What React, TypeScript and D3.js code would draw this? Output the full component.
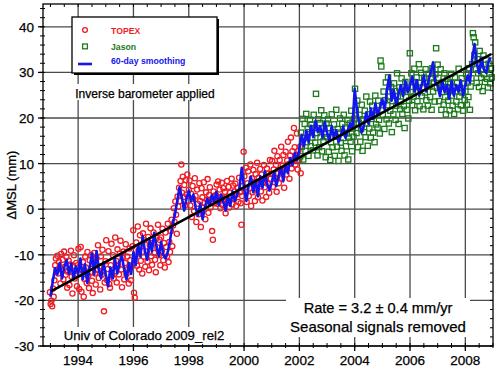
import React from "react";
import * as d3 from "d3";

// TOPEX cycles (mm), one every ~9.9 days from 1992.98
const topex = [
  -18.2, -20.8, -20.1, -21.3, -17.4, -19.2, -15.6, -12.3, -10.8, -13.4, -10.2, -14.1, -11.5, -12.7, -16.3, -9.8, -13.2, -11.1, -15.4, -9.3, -12.6, -14.4, -10.5, -17.2, -13.7, -11.3, -16.6, -12.1, -9.1, -14.8, -18.5, -12.4, -10.1, -15.2, -13.5, -11.8, -16.9,
  -12.3, -8.7, -17.5, -14.2, -8.3, -18.1, -13.4, -11.6, -19.2, -15.3, -10.4, -12.8, -16.2, -9.4, -14.6, -17.3, -11.2, -13.9, -10.1, -15.7, -18.4, -12.2, -9.6, -14.1, -16.5, -10.8, -13.3, -7.9, -15.1, -12.5, -17.6, -10.3, -14.4, -8.9, -13.6, -22.4, -16.1,
  -11.4, -6.8, -15.5, -13.1, -9.2, -16.4, -17.2, -12.3, -7.6, -14.5, -10.1, -15.2, -13.6, -6.2, -11.3, -16.1, -8.8, -12.4, -14.3, -9.7, -6.9, -13.2, -17.1, -10.6, -9.3, -15.4, -11.8, -7.7, -14.2, -10.4, -13.1, -16.3, -8.6, -11.2, -15.6, -12.5, -8.1,
  -4.6, -18.3, -19.4, -10.2, -7.3, -12.4, -3.8, -9.1, -13.2, -5.7, -11.3, -8.2, -14.1, -5.3, -10.4, -6.8, -12.6, -3.2, -9.3, -11.5, -6.1, -13.4, -7.8, -4.2, -10.3, -12.2, -7.4, -5.1, -9.6, -11.1, -13.8, -6.3, -8.4, -3.4, -10.1, -6.7, -12.3,
  -6.2, -9.1, -4.3, -11.2, -7.4, -12.8, -5.1, -8.3, -10.4, -3.2, -11.6, -7.2, -9.4, -4.8, -2.3, -8.1, -3.6, 0.2, -2.8, 1.7, -1.2, -5.4, 2.8, 0.6, 4.7, 1.8, 6.2, 9.8, 3.6, 7.1, 2.7, 5.3, 0.8, 6.4, 3.2, 7.6, 1.9,
  4.2, 6.3, 0.8, 3.4, -1.7, 5.1, 2.3, -0.4, 6.8, 2.9, -2.8, 4.3, 1.2, -1.1, 5.7, 1.8, -3.9, 4.6, 2.6, 0.3, 5.9, 1.4, -2.2, 3.7, 2.1, 6.6, -0.8, 3.1, 4.8, 0.4, 2.2, -4.8, -6.7, 3.9, 1.3, 2.8,
  3.1, 5.4, 1.2, 6.1, 1.8, 4.3, 0.2, 2.7, 5.8, 0.9, 4.6, 2.3, 3.8, -0.9, 2.6, 6.2, 1.7, 4.9, 0.4, 3.6, 2.8, 6.7, 1.1, 5.2, 2.4, 3.9, 5.6, 0.7, 3.3, 4.7, 1.6, 6.9, 3.7, 1.3, -3.4, 2.9, 5.1,
  12.6, 7.2, 3.8, 9.1, 1.6, 5.7, 8.3, 2.9, 4.6, 9.8, 0.7, 6.8, 3.7, 8.6, 5.9, 1.8, 7.7, 4.6, 10.2, 2.6, 6.9, 5.5, 8.8, 3.9, 7.6, 1.9, 5.8, 9.7, 4.8, 6.6, 2.7, 8.9, 5.6, 7.8, 3.6, 10.8, 6.7,
  7.8, 10.6, 4.9, 8.7, 12.8, 6.6, 9.7, 3.8, 11.6, 7.9, 5.7, 10.8, 8.6, 13.7, 6.8, 9.6, 11.9, 4.7, 8.8, 12.6, 7.6, 10.7, 14.8, 9.9, 6.7, 11.8, 15.7, 8.9, 12.7, 10.6, 17.8, 13.6, 9.8, 11.7, 16.6, 8.7, 12.9,
  10.8, 13.7, 7.9,
];

// Jason cycles (mm) from 2002.03
const jason = [
  11.6, 16.8, 13.7, 19.8, 10.9, 15.6, 18.7, 12.8, 20.9, 14.7, 17.6, 11.7, 16.9, 19.6, 13.8, 18.6, 15.7, 12.9, 20.7, 17.8, 14.6, 25.3, 16.7, 11.8, 19.7, 13.6, 18.9, 15.8, 21.7, 12.7, 17.7, 14.9, 20.6, 16.6, 11.4, 18.8,
  15.8, 19.7, 12.6, 17.8, 10.8, 14.7, 20.8, 13.6, 16.9, 18.6, 11.7, 15.9, 21.8, 13.7, 17.6, 10.6, 16.8, 19.9, 14.6, 12.8, 18.7, 15.6, 20.7, 11.8, 17.9, 13.8, 16.6, 19.6, 10.9, 15.7, 18.8, 14.8, 21.6, 12.7, 17.7, 15.9, 19.8,
  26.4, 21.8, 16.7, 23.8, 13.6, 18.9, 20.7, 14.8, 17.6, 22.9, 12.8, 19.7, 16.9, 21.6, 15.8, 24.7, 18.8, 13.9, 20.8, 17.7, 23.6, 15.7, 19.8, 22.7, 16.8, 20.6, 14.7, 24.9, 18.6, 21.7, 17.9, 23.8, 19.6, 16.6, 32.6, 31.3, 22.8,
  20.7, 25.8, 17.6, 23.9, 27.8, 19.7, 22.8, 28.9, 18.8, 24.7, 21.6, 26.8, 16.9, 23.7, 20.8, 27.6, 25.9, 19.6, 22.7, 29.8, 24.8, 18.7, 26.7, 21.9, 23.6, 28.7, 20.9, 25.7, 22.6, 17.8, 27.9, 24.6, 21.8, 26.6, 19.9, 23.8, 34.2,
  25.7, 29.8, 22.8, 27.9, 24.7, 30.8, 21.7, 26.8, 28.9, 23.7, 25.9, 31.8, 22.6, 27.7, 29.9, 24.8, 26.7, 21.9, 28.8, 25.6, 30.7, 23.9, 27.6, 22.7, 29.7, 26.9, 24.6, 28.7, 21.8, 30.9, 25.8, 27.8, 23.6, 29.6, 35.3, 26.6, 31.7,
  28.8, 23.7, 26.9, 30.7, 21.8, 25.7, 27.9, 22.9, 29.8, 24.6, 20.8, 26.7, 28.6, 23.8, 25.9, 21.7, 27.8, 29.7, 24.9, 22.7, 26.8, 20.9, 28.9, 25.8, 23.6, 27.7, 21.9, 30.8, 24.7, 26.6, 22.8, 28.7, 25.6, 21.6, 27.6, 23.9,
  25.8, 29.7, 22.9, 27.8, 24.6, 30.9, 21.8, 26.9, 28.7, 31.8, 38.6, 37.7, 33.8, 36.6, 30.8, 27.7, 32.9, 29.8, 26.8, 34.7, 31.6, 28.8, 30.7, 25.9, 33.7, 29.6, 27.9, 32.8, 30.6, 28.6, 26.7, 31.9, 29.7, 27.6, 30.9, 28.9,
];

// 60-day smoothing, monthly samples from 1993.0
const smooth = [
  -19.2, -15.8, -12.9, -14.3, -11.8, -15.2, -12.7, -11.2, -14.1, -11.9, -15.3, -12.6,
  -14.2, -10.8, -15.4, -12.1, -16.2, -12.8, -9.7, -14.3, -9.2, -13.4, -15.1, -11.7,
  -14.3, -16.9, -12.8, -15.2, -10.9, -14.1, -11.6, -10.2, -13.3, -15.4, -11.8, -14.2,
  -9.4, -12.3, -7.8, -10.4, -5.9, -9.2, -11.1, -6.8, -9.3, -5.2, -8.1, -10.3,
  -7.2, -10.1, -10.8, -9.2, -6.4, -3.3, -1.2, 1.8, 4.8, 2.6, -0.3, 2.3,
  4.1, 1.7, 3.2, 0.3, -1.4, 1.2, -2.2, 0.4, 2.3, 0.8, 3.1, 1.7,
  3.8, 0.9, 3.2, 1.6, -0.3, 2.8, 0.7, 3.9, 1.8, 3.2, 4.7, 9.1,
  4.6, 1.8, 5.2, 7.1, 3.7, 6.3, 2.8, 7.2, 4.7, 8.3, 5.6, 4.1,
  5.8, 8.2, 5.1, 7.3, 9.2, 6.1, 9.8, 7.9, 11.2, 9.7, 12.3, 10.8,
  13.2, 16.3, 13.8, 17.2, 14.7, 18.3, 15.8, 19.4, 16.9, 18.2, 15.7, 19.1,
  16.8, 14.9, 18.2, 15.8, 17.3, 14.7, 16.2, 18.1, 15.7, 17.2, 18.8, 17.6,
  26.4, 21.7, 18.8, 16.8, 18.3, 21.2, 18.7, 22.1, 19.8, 23.2, 20.7, 22.3,
  24.1, 21.8, 26.2, 29.3, 23.8, 26.1, 22.9, 25.3, 27.2, 24.8, 28.1, 25.7,
  27.2, 29.1, 25.8, 28.3, 24.9, 27.2, 29.3, 25.8, 28.1, 30.2, 32.2, 27.8,
  27.1, 24.8, 28.2, 25.7, 27.3, 24.2, 28.1, 24.9, 27.2, 25.8, 28.3, 24.9,
  27.2, 29.3, 27.8, 33.1, 36.2, 31.8, 29.8, 33.2, 30.7, 29.9, 32.1, 33.3,
];

const trendYears = [1993.05, 2008.9];
const trendValues = [-17.9, 33.9];

const xTicks = [1994, 1996, 1998, 2000, 2002, 2004, 2006, 2008];
const yTicks = [-30, -20, -10, 0, 10, 20, 30, 40];

const topexStart = 1992.98;
const jasonStart = 2002.03;
const cycle = 9.9156 / 365.25;
const smoothStart = 1993.0;

const font = "'Liberation Sans', Arial, Helvetica, sans-serif";

const App = () => {
  const x = d3.scaleLinear().domain([1992.73, 2009]).range([43, 493]);
  const y = d3.scaleLinear().domain([-30, 45]).range([346, 4]);
  const [x0, x1] = x.range();
  const [y0, y1] = y.range();

  const minorX = d3.range(1993, 2009.01, 0.5);
  const minorY = d3.range(-30, 45.01, 2);

  const line = d3
    .line<number>()
    .x((_, i) => x(smoothStart + i / 12))
    .y((d) => y(d));

  const grid = "#4a4a4a";
  // slightly heavier text, like the original rendering
  const ink = { stroke: "#000", strokeWidth: 0.25 };

  return (
    <svg width={500} height={368} style={{ position: "absolute", left: 0, top: 0, background: "#fff" }} fontFamily={font}>
      <rect x={0} y={0} width={500} height={368} fill="#fff" />
      {/* grid */}
      {xTicks.map((t) => (
        <line key={"gx" + t} x1={x(t)} x2={x(t)} y1={y1} y2={y0} stroke={grid} strokeWidth={1.3} />
      ))}
      {yTicks.map((t) => (
        <line key={"gy" + t} x1={x0} x2={x1} y1={y(t)} y2={y(t)} stroke={grid} strokeWidth={1.3} />
      ))}
      {/* minor ticks */}
      {minorX.map((t) => (
        <g key={"mx" + t}>
          <line x1={x(t)} x2={x(t)} y1={y1} y2={y1 + 3} stroke="#000" strokeWidth={1} />
          <line x1={x(t)} x2={x(t)} y1={y0 - 3} y2={y0 + 2} stroke="#000" strokeWidth={1} />
        </g>
      ))}
      {minorY.map((t) => (
        <g key={"my" + t}>
          <line x1={x0 - 3} x2={x0 + 2} y1={y(t)} y2={y(t)} stroke="#000" strokeWidth={1} />
          <line x1={x1 - 3} x2={x1} y1={y(t)} y2={y(t)} stroke="#000" strokeWidth={1} />
        </g>
      ))}
      {xTicks.map((t) => (
        <line key={"tx" + t} x1={x(t)} x2={x(t)} y1={y0} y2={y0 + 5} stroke="#000" strokeWidth={1.3} />
      ))}
      {yTicks.map((t) => (
        <line key={"ty" + t} x1={x0 - 5} x2={x0} y1={y(t)} y2={y(t)} stroke="#000" strokeWidth={1.3} />
      ))}

      {/* text boxes */}
      <rect x={74} y={84} width={142} height={16} fill="#fff" />
      <text x={145} y={98} textAnchor="middle" fontSize={12} fill="#000" {...ink}>Inverse barometer applied</text>

      <rect x={60} y={327} width={168} height={17} fill="#fff" />
      <text x={144} y={340} textAnchor="middle" fontSize={13.2} fill="#000" {...ink}>Univ of Colorado 2009_rel2</text>

      <rect x={286} y={298} width={184} height={39} fill="#fff" />
      <text x={378} y={313} textAnchor="middle" fontSize={14.6} fill="#000" {...ink}>Rate = 3.2 ± 0.4 mm/yr</text>
      <text x={378} y={332} textAnchor="middle" fontSize={15} fill="#000" {...ink}>Seasonal signals removed</text>

      {/* data */}
      {topex.map((v, i) => (
        <circle key={"t" + i} cx={x(topexStart + i * cycle)} cy={y(v)} r={2.6} fill="none" stroke="#ee1c25" strokeWidth={1.3} />
      ))}
      {jason.map((v, i) => (
        <rect key={"j" + i} x={x(jasonStart + i * cycle) - 2.6} y={y(v) - 2.6} width={5.2} height={5.2} fill="none" stroke="#1c7a1c" strokeWidth={1.3} />
      ))}
      <path d={line(smooth) || ""} fill="none" stroke="#1414ee" strokeWidth={2.6} strokeLinejoin="round" />
      <line x1={x(trendYears[0])} y1={y(trendValues[0])} x2={x(trendYears[1])} y2={y(trendValues[1])} stroke="#000" strokeWidth={2.6} strokeLinecap="round" />

      {/* frame */}
      <rect x={x0} y={y1} width={x1 - x0} height={y0 - y1} fill="none" stroke="#000" strokeWidth={1.3} />

      {/* axis labels */}
      {xTicks.map((t) => (
        <text key={"lx" + t} x={x(t)} y={365} textAnchor="middle" fontSize={13.5} fill="#000" {...ink}>{t}</text>
      ))}
      {yTicks.map((t) => (
        <text key={"ly" + t} x={34} y={y(t) + 5} textAnchor="end" fontSize={13.5} fill="#000" {...ink}>{t}</text>
      ))}
      <text transform="translate(16,185) rotate(-90)" textAnchor="middle" fontSize={13} fill="#000" {...ink}>ΔMSL (mm)</text>

      {/* legend */}
      <rect x={74} y={19} width={145} height={56} fill="#000" />
      <rect x={72} y={17} width={145} height={56} fill="#fff" stroke="#000" strokeWidth={1.3} />
      <circle cx={85} cy={30} r={2.4} fill="none" stroke="#ee1c25" strokeWidth={1.3} />
      <text x={111} y={34} fontSize={8.7} fontWeight="bold" fill="#ee1c25">TOPEX</text>
      <rect x={82.6} y={44} width={4.8} height={4.8} fill="none" stroke="#1c7a1c" strokeWidth={1.3} />
      <text x={111} y={50} fontSize={8.7} fontWeight="bold" fill="#1c7a1c">Jason</text>
      <line x1={78} x2={92} y1={64} y2={64} stroke="#1414ee" strokeWidth={2.6} />
      <text x={111} y={64} fontSize={8.7} fontWeight="bold" fill="#1414ee">60-day smoothing</text>
    </svg>
  );
};

export default App;
